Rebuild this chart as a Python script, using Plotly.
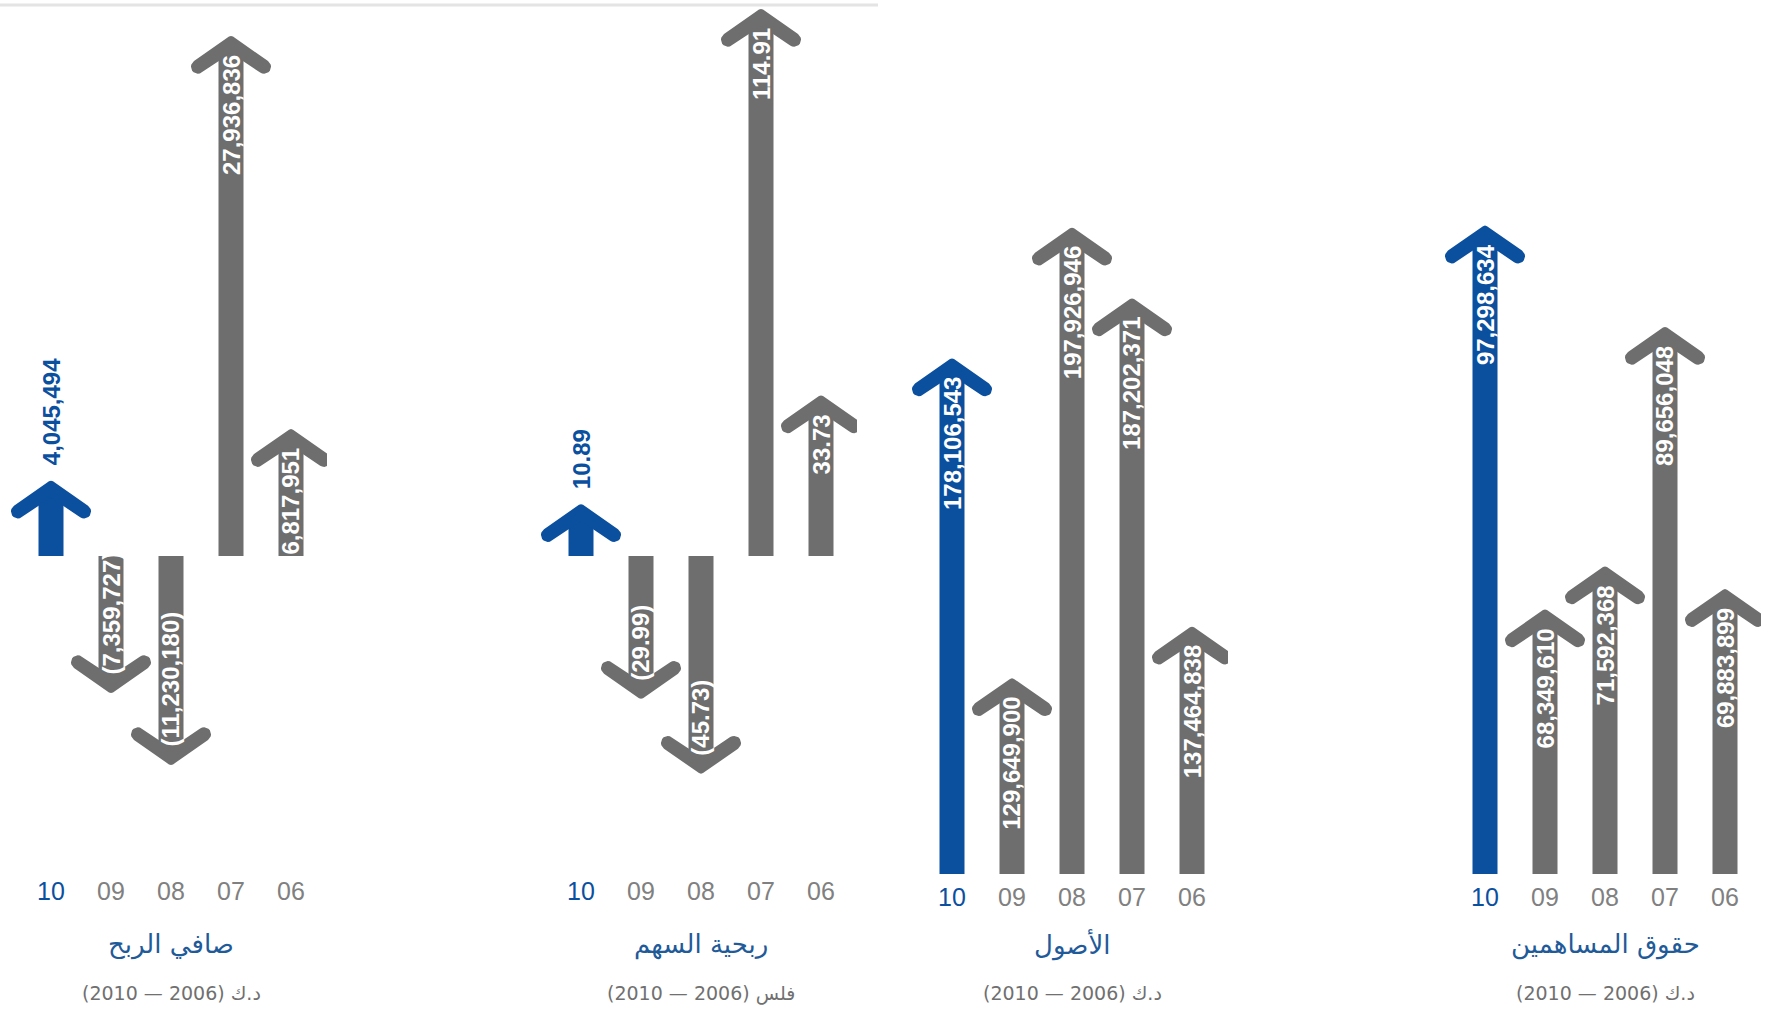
import numpy as np
import plotly.graph_objects as go

# ---------------- data ----------------
years = ["10", "09", "08", "07", "06"]
net_profit = [4045494, -7359727, -11230180, 27936836, 6817951]      # KD
eps_fils = [10.89, -29.99, -45.73, 114.91, 33.73]                    # fils
total_assets = [178106543, 129649900, 197926946, 187202371, 137464838]  # KD
shareholders_equity = [97298634, 68349610, 71592368, 89656048, 69883899]  # KD

titles = ["صافي الربح", "ربحية السهم", "الأصول", "حقوق المساهمين"]
subtitles = ["د.ك (2006 — 2010)", "فلس (2006 — 2010)", "د.ك (2006 — 2010)", "د.ك (2006 — 2010)"]

# ---------------- style ----------------
W, H = 1766, 1012
BLUE = "#0b4f9f"
GREY = "#6e6e6e"
TICK_GREY = "#808080"
TITLE_BLUE = "#1f5a99"
SUB_GREY = "#707070"
S = 60.0            # px per category
SHAFT_PX = 25.0
FONT = "Liberation Sans, Arial, sans-serif"
AR_FONT = "DejaVu Sans, Noto Sans, sans-serif"
LABEL_SIZE = 24

def fmt_int(v):
    s = f"{abs(v):,}"
    return f"({s})" if v < 0 else s

def fmt_dec(v):
    s = f"{abs(v):.2f}"
    return f"({s})" if v < 0 else s

# panel geometry (pixels) : p0 = x of first category, anchor (Y0 px <-> v0 value), scale px/unit
panels = [
    dict(vals=net_profit, fmt=fmt_int, p0=51, Y0=556, v0=0.0,
         scale=(556 - 36) / max(net_profit), top=0, bot=868,
         outside=[True, False, False, False, False]),
    dict(vals=eps_fils, fmt=fmt_dec, p0=581, Y0=556, v0=0.0,
         scale=(556 - 9) / max(eps_fils), top=0, bot=868,
         outside=[True, False, False, False, False]),
    dict(vals=total_assets, fmt=fmt_int, p0=952, Y0=874, v0=100e6,
         scale=6.6e-6, top=100, bot=874,
         outside=[False] * 5),
    dict(vals=shareholders_equity, fmt=fmt_int, p0=1485, Y0=874, v0=48.4e6,
         scale=13.26e-6, top=100, bot=874,
         outside=[False] * 5),
]

# arrowhead outline in px (pointing up, tip at origin, y up)
def head_outline(hw=37.0, drop=25.0, r=7.0):
    outer = np.array([hw, -drop])
    u = outer / np.linalg.norm(outer)
    n = np.array([-u[1], u[0]])
    if n[1] > 0:
        n = -n
    c = outer + r * n
    inner = c + r * n
    ts = np.linspace(0, np.pi, 11)
    cap = [c + r * (-n * np.cos(t) + u * np.sin(t)) for t in ts]
    notch = np.array([0.0, inner[1] + inner[0] * (drop / hw)])
    tip = [np.array([-2.0, -0.6]), np.array([0.0, 0.0]), np.array([2.0, -0.6])]
    right = [tip[1], tip[2]] + cap + [notch]
    left = [np.array([-p[0], p[1]]) for p in cap[::-1]] + [tip[0], tip[1]]
    return np.array(right + left)

HEAD = head_outline()

fig = go.Figure()
annotations = []
layout_axes = {}

for k, P in enumerate(panels):
    idx = "" if k == 0 else str(k + 1)
    xa, ya = "x" + idx, "y" + idx
    vals = P["vals"]
    sc = P["scale"]

    def v_at(py, P=P):
        return P["v0"] + (P["Y0"] - py) / P["scale"]

    xr = [-0.75, 4.6]
    xdom = [(P["p0"] + xr[0] * S) / W, (P["p0"] + xr[1] * S) / W]
    ydom = [1 - P["bot"] / H, 1 - P["top"] / H]
    yr = [v_at(P["bot"]), v_at(P["top"])]

    colors = [BLUE if i == 0 else GREY for i in range(len(vals))]
    base = P["v0"]
    ends = [v - np.sign(v - base) * 12.0 / sc for v in vals]
    fig.add_trace(go.Bar(
        x=list(range(len(vals))), y=[e - base for e in ends], base=[base] * len(vals),
        width=SHAFT_PX / S, marker=dict(color=colors, line=dict(width=0)),
        xaxis=xa, yaxis=ya, hoverinfo="skip", showlegend=False))

    for i, v in enumerate(vals):
        sgn = 1.0 if v >= base else -1.0
        hx = i + HEAD[:, 0] / S
        hy = v + sgn * HEAD[:, 1] / sc
        fig.add_trace(go.Scatter(
            x=hx, y=hy, mode="lines", fill="toself", fillcolor=colors[i],
            line=dict(width=0, color=colors[i]), xaxis=xa, yaxis=ya,
            hoverinfo="skip", showlegend=False))

        label = P["fmt"](v)
        if P["outside"][i]:
            annotations.append(dict(
                x=i, y=v, xref=xa, yref=ya, text=label, showarrow=False,
                textangle=-90, xanchor="center", yanchor="bottom", yshift=13,
                font=dict(family=FONT, size=LABEL_SIZE, color=BLUE, weight="bold")))
        elif sgn > 0:
            annotations.append(dict(
                x=i, y=v, xref=xa, yref=ya, text=label, showarrow=False,
                textangle=-90, xanchor="center", yanchor="top", yshift=-17,
                font=dict(family=FONT, size=LABEL_SIZE, color="white", weight="bold")))
        else:
            annotations.append(dict(
                x=i, y=v, xref=xa, yref=ya, text=label, showarrow=False,
                textangle=-90, xanchor="center", yanchor="bottom", yshift=16,
                font=dict(family=FONT, size=LABEL_SIZE, color="white", weight="bold")))

    ticktext = [f'<span style="color:{BLUE}">{years[0]}</span>'] + years[1:]
    layout_axes["xaxis" + idx] = dict(
        domain=xdom, range=xr, anchor=ya, tickmode="array",
        tickvals=list(range(len(years))), ticktext=ticktext,
        tickfont=dict(family=FONT, size=25, color=TICK_GREY),
        ticklabelstandoff=6,
        showgrid=False, zeroline=False, showline=False, ticks="", fixedrange=True)
    layout_axes["yaxis" + idx] = dict(
        domain=ydom, range=yr, anchor=xa, visible=False,
        showgrid=False, zeroline=False, fixedrange=True)

    annotations.append(dict(
        x=2, y=1 - 944 / H, xref=xa, yref="paper", text=titles[k], showarrow=False,
        xanchor="center", yanchor="middle",
        font=dict(family=AR_FONT, size=26, color=TITLE_BLUE)))
    annotations.append(dict(
        x=2, y=1 - 993 / H, xref=xa, yref="paper",
        text="\u202b" + subtitles[k] + "\u202c", showarrow=False,
        xanchor="center", yanchor="middle",
        font=dict(family=AR_FONT, size=19, color=SUB_GREY)))

fig.update_layout(
    width=W, height=H, margin=dict(l=0, r=0, t=0, b=0),
    paper_bgcolor="white", plot_bgcolor="white",
    barmode="overlay", annotations=annotations,
    shapes=[dict(type="line", xref="paper", yref="paper",
                 x0=0, x1=878 / W, y0=1 - 5 / H, y1=1 - 5 / H,
                 line=dict(color="#e4e4e4", width=3))],
    **layout_axes)

fig.write_html("out.html", config={"displayModeBar": False},
               post_script="document.body.style.margin='0';document.body.style.overflow='hidden';")
